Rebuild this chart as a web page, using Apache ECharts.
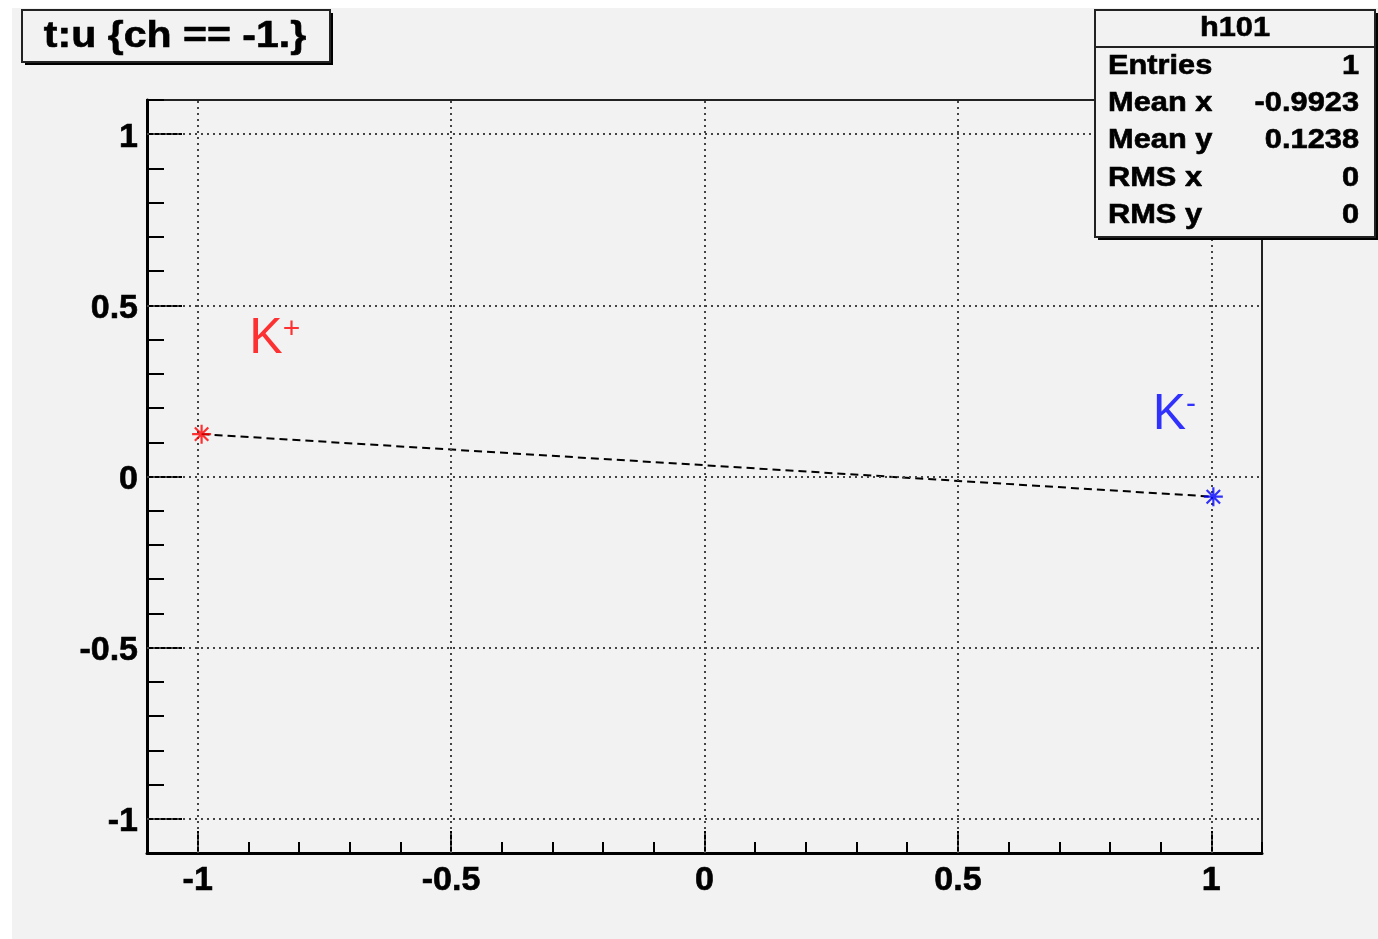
<!DOCTYPE html>
<html>
<head>
<meta charset="utf-8">
<script src="https://cdn.jsdelivr.net/npm/echarts@6/dist/echarts.min.js"></script>
<style>
  html, body { margin: 0; padding: 0; background: #ffffff; }
  #c { width: 1378px; height: 939px; }
</style>
</head>
<body>
<div id="c"></div>
<script>
// Axis ranges and tick marks
const xRange = [-1.1, 1.1];
const yRange = [-1.1, 1.1];
const majorTicks = [-1, -0.5, 0, 0.5, 1];
const minorStep = 0.1;

// The two kaon points (t vs u) joined by a dashed line
const kPlusPoint = [-0.9923, 0.1238];
const kMinusPoint = [1.004, -0.059];

// Where the K+ / K- annotations sit, in data coordinates
const kPlusLabelPos = [-0.848, 0.400];
const kMinusLabelPos = [0.927, 0.180];

// Title and statistics box text
const titleText = 't:u {ch == -1.}';
const statsTitle = 'h101';
const statsNames = ['Entries', 'Mean x', 'Mean y', 'RMS x', 'RMS y'];
const statsValues = ['1', '-0.9923', '0.1238', '0', '0'];

const FONT = '"Liberation Sans", Arial, Helvetica, sans-serif';
const GRID = { left: 147, top: 100, width: 1115, height: 753 };
const WIDE = 1.14; // horizontal stretch for the boxed texts

// ROOT-style asterisk marker (stroked, not filled)
const STAR = 'path://M0,-10L0,10M-10,0L10,0M-7.07,-7.07L7.07,7.07M-7.07,7.07L7.07,-7.07';

function fmt(v) {
  return String(Math.round(v * 10) / 10);
}

function valueAxis(range, isMajor, tickLen, extra, labelExtra) {
  const ax = {
    type: 'value',
    gridIndex: 0,
    min: range[0],
    max: range[1],
    interval: minorStep,
    splitLine: { show: false },
    axisLine: { show: !isMajor, onZero: false, lineStyle: { color: '#000', width: 3 } },
    axisTick: {
      show: true,
      inside: true,
      length: tickLen,
      lineStyle: { color: '#000', width: 2 }
    },
    axisLabel: { show: false }
  };
  if (isMajor) {
    ax.axisTick.customValues = majorTicks;
    ax.axisLabel = Object.assign({
      show: true,
      customValues: majorTicks,
      formatter: fmt,
      fontFamily: FONT,
      fontWeight: 'bold',
      fontSize: 34,
      color: '#000',
      textBorderColor: '#000',
      textBorderWidth: 0.6,
      margin: 9
    }, labelExtra || {});
  }
  return Object.assign(ax, extra || {});
}

function boxText(x, y, text, size, align) {
  return {
    type: 'text', z: 102, x: x, y: y, scaleX: WIDE,
    style: {
      text: text, font: 'bold ' + size + 'px ' + FONT, fill: '#000',
      stroke: '#000', lineWidth: 0.6,
      align: align, verticalAlign: 'middle'
    }
  };
}

const statsGraphics = [];
const SB = { x: 1095, y: 10, w: 280, h: 227 };
statsGraphics.push({
  type: 'rect', z: 100,
  shape: { x: SB.x + 3, y: SB.y + 3, width: SB.w, height: SB.h },
  style: { fill: '#000' }
});
statsGraphics.push({
  type: 'rect', z: 101,
  shape: { x: SB.x, y: SB.y, width: SB.w, height: SB.h },
  style: { fill: '#f2f2f2', stroke: '#222', lineWidth: 2 }
});
statsGraphics.push({
  type: 'line', z: 102,
  shape: { x1: SB.x, y1: 47, x2: SB.x + SB.w, y2: 47 },
  style: { stroke: '#222', lineWidth: 2 }
});
statsGraphics.push(boxText(1235, 29, statsTitle, 27, 'center'));
const rowY = [67, 104, 141, 179, 216];
statsNames.forEach(function (name, i) {
  statsGraphics.push(boxText(1108, rowY[i], name, 27, 'left'));
  statsGraphics.push(boxText(1359, rowY[i], statsValues[i], 27, 'right'));
});

const option = {
  animation: false,
  backgroundColor: '#ffffff',
  grid: Object.assign({
    show: true,
    backgroundColor: 'transparent',
    borderColor: '#222',
    borderWidth: 2,
    outerBoundsMode: 'none',
    containLabel: false
  }, GRID),
  xAxis: [
    valueAxis(xRange, false, 11, { position: 'bottom' }),
    valueAxis(xRange, true, 22, { position: 'bottom' }, { padding: [2, 0, 0, 0] })
  ],
  yAxis: [
    valueAxis(yRange, false, 17, { position: 'left' }),
    valueAxis(yRange, true, 35, { position: 'left' }, { verticalAlign: 'top', lineHeight: 6 })
  ],
  graphic: [
    {
      type: 'rect', z: -100, silent: true,
      shape: { x: 12, y: 8, width: 1366, height: 931 },
      style: { fill: '#f2f2f2' }
    },
    {
      type: 'rect', z: 100,
      shape: { x: 25, y: 13, width: 308, height: 52 },
      style: { fill: '#000' }
    },
    {
      type: 'rect', z: 101,
      shape: { x: 22, y: 10, width: 308, height: 52 },
      style: { fill: '#f2f2f2', stroke: '#222', lineWidth: 2 }
    },
    boxText(175, 37, titleText, 36, 'center')
  ].concat(statsGraphics),
  series: [
    {
      name: 'grid',
      type: 'line',
      xAxisIndex: 0, yAxisIndex: 0,
      data: [],
      silent: true,
      markLine: {
        silent: true,
        symbol: 'none',
        label: { show: false },
        lineStyle: { color: '#444', width: 2, type: [2, 4] },
        data: majorTicks.map(function (v) { return { xAxis: v }; })
          .concat(majorTicks.map(function (v) { return { yAxis: v }; }))
      }
    },
    {
      name: 't:u',
      type: 'line',
      xAxisIndex: 0, yAxisIndex: 0,
      data: [kPlusPoint, kMinusPoint],
      symbol: 'none',
      lineStyle: { color: '#000', width: 2, type: [8, 5] },
      z: 3
    },
    {
      name: 'K+',
      type: 'scatter',
      xAxisIndex: 0, yAxisIndex: 0,
      data: [kPlusPoint],
      symbol: STAR,
      symbolSize: 19,
      itemStyle: { color: 'rgba(0,0,0,0)', borderColor: '#ff0000', borderWidth: 2.2 },
      z: 5
    },
    {
      name: 'K-',
      type: 'scatter',
      xAxisIndex: 0, yAxisIndex: 0,
      data: [kMinusPoint],
      symbol: STAR,
      symbolSize: 19,
      itemStyle: { color: 'rgba(0,0,0,0)', borderColor: '#0000ff', borderWidth: 2.2 },
      z: 5
    },
    {
      name: 'labels',
      type: 'scatter',
      xAxisIndex: 0, yAxisIndex: 0,
      symbolSize: 0,
      silent: true,
      data: [
        { value: kPlusLabelPos, label: { formatter: '{k|K}{s|+}', rich: {
          k: { fontFamily: FONT, fontSize: 50, color: '#ff0000' },
          s: { fontFamily: FONT, fontSize: 30, color: '#ff0000', verticalAlign: 'top', padding: [0, 0, 12, 0] }
        } } },
        { value: kMinusLabelPos, label: { formatter: '{k|K}{s|-}', rich: {
          k: { fontFamily: FONT, fontSize: 50, color: '#0000ff' },
          s: { fontFamily: FONT, fontSize: 30, color: '#0000ff', verticalAlign: 'top', padding: [0, 0, 16, 0] }
        } } }
      ],
      label: { show: true, position: 'inside' },
      z: 6
    }
  ]
};

const chart = echarts.init(document.getElementById('c'), null, { renderer: 'canvas' });
chart.setOption(option);
</script>
</body>
</html>
